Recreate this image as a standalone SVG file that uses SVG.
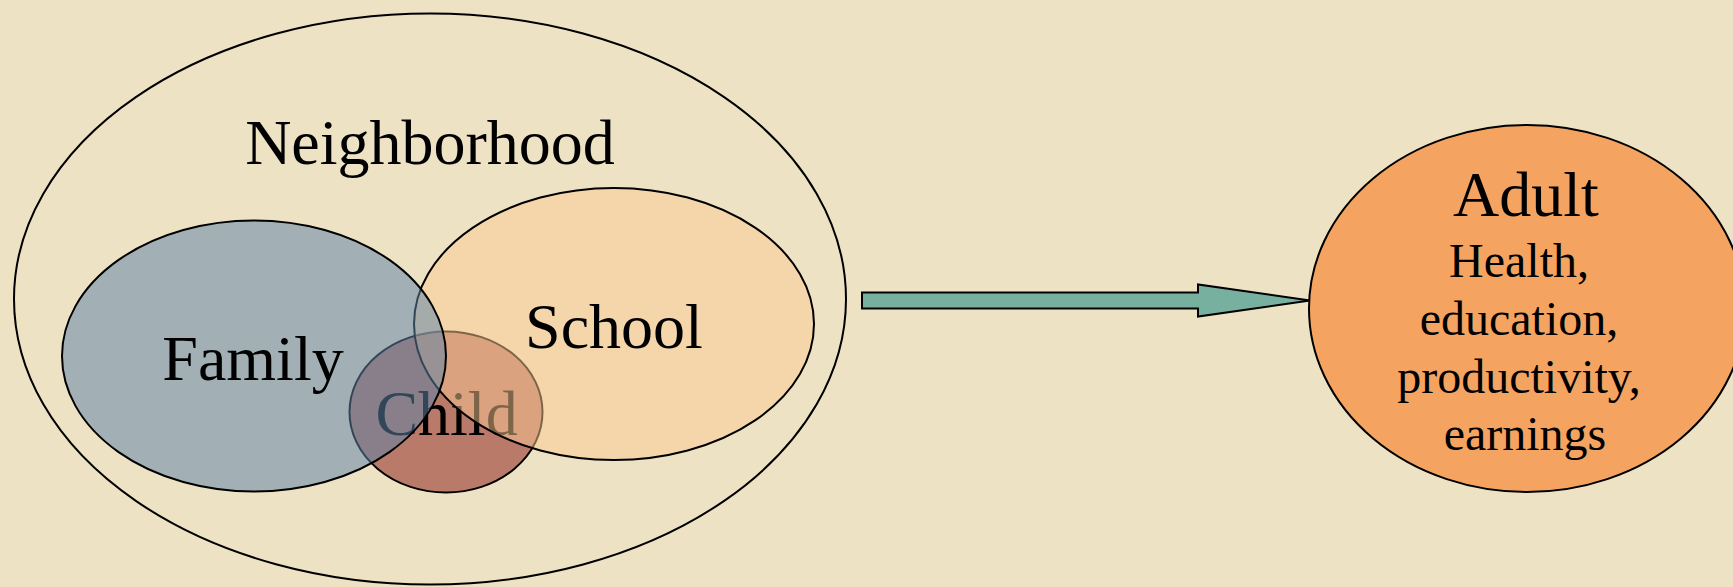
<svg xmlns="http://www.w3.org/2000/svg" width="1733" height="587" viewBox="0 0 1733 587">
<style>
  .lbl { font-family: "Liberation Serif", "Times New Roman", serif; fill: #000; text-anchor: middle; }
  .big { font-size: 64px; }
  .small { font-size: 48px; }
  .ring { stroke: #000; stroke-width: 2; }
</style>
<rect x="0" y="0" width="1733" height="587" fill="#EDE2C3"/>
<g id="neighborhood">
  <ellipse class="ring" cx="430" cy="299" rx="416" ry="285.5" fill="none"/>
  <text class="lbl big" x="430" y="164">Neighborhood</text>
</g>
<g id="child">
  <ellipse class="ring" cx="446" cy="412" rx="96.5" ry="80.5" fill="#B97A6A"/>
  <text class="lbl big" x="446.5" y="435">Child</text>
</g>
<g id="school">
  <ellipse class="ring" cx="614" cy="324" rx="200" ry="136" fill="#FBCA91" fill-opacity="0.5"/>
  <text class="lbl big" x="614" y="348">School</text>
</g>
<g id="family">
  <ellipse class="ring" cx="254" cy="356" rx="192" ry="135.5" fill="#5E84A9" fill-opacity="0.53"/>
  <text class="lbl big" x="253" y="380">Family</text>
</g>
<g id="connectors">
  <polygon points="862,292.5 1198,292.5 1198,284.5 1310,300.5 1198,316.5 1198,308.5 862,308.5" fill="#78B0A0" stroke="#000" stroke-width="2" stroke-linejoin="miter"/>
</g>
<g id="adult">
  <ellipse class="ring" cx="1527" cy="308.5" rx="218" ry="183.5" fill="#F4A460" stroke-width="1.5"/>
  <text class="lbl big" x="1526" y="216">Adult</text>
  <text class="lbl small" x="1519" y="277">Health,</text>
  <text class="lbl small" x="1519" y="335">education,</text>
  <text class="lbl small" x="1519" y="393">productivity,</text>
  <text class="lbl small" x="1525" y="450">earnings</text>
</g>
</svg>
